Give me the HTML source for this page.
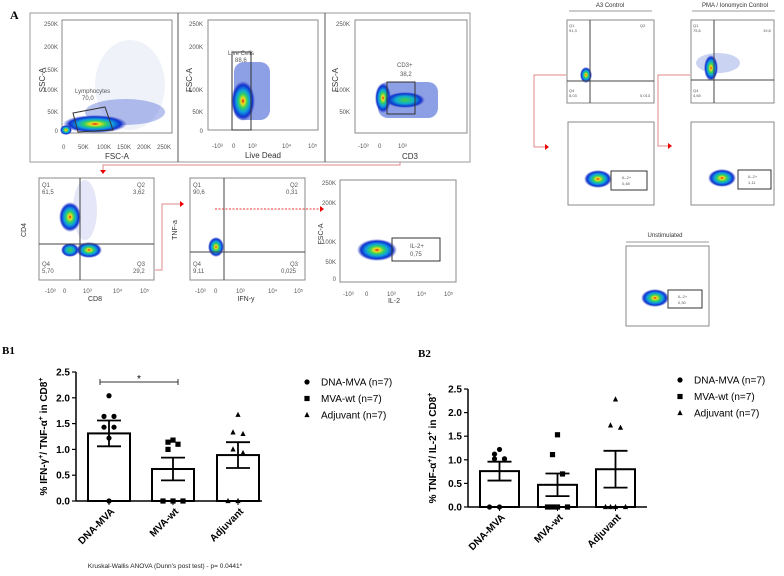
<!DOCTYPE html>
<html><head><meta charset="utf-8"><style>
html,body{margin:0;padding:0;background:#fff}
svg{display:block;font-family:"Liberation Sans",sans-serif}
</style></head><body>
<svg id="fig" width="784" height="576" viewBox="0 0 784 576">
<defs>
<radialGradient id="blob" cx="50%" cy="50%" r="50%">
<stop offset="0" stop-color="#e01010"/><stop offset="0.15" stop-color="#f0e020"/><stop offset="0.35" stop-color="#30d060"/><stop offset="0.55" stop-color="#10a0e0"/><stop offset="0.8" stop-color="#1030d0"/><stop offset="1" stop-color="#3040c0" stop-opacity="0"/>
</radialGradient>
<radialGradient id="blobg" cx="50%" cy="50%" r="50%">
<stop offset="0" stop-color="#40d040"/><stop offset="0.45" stop-color="#10b0d0"/><stop offset="0.8" stop-color="#1030d0"/><stop offset="1" stop-color="#3040c0" stop-opacity="0"/>
</radialGradient>
</defs>
<g font-size="6" fill="#555">
<text x="10" y="19" font-family="Liberation Serif" font-weight="bold" font-size="12" fill="#000">A</text>
<rect x="30" y="13" width="440" height="149" fill="none" stroke="#999"/>
<line x1="178" y1="13" x2="178" y2="162" stroke="#555"/><line x1="325" y1="13" x2="325" y2="162" stroke="#555"/>
<g>
<rect x="62" y="20" width="110" height="113" fill="none" stroke="#888"/>
<ellipse cx="130" cy="85" rx="35" ry="45" fill="#8090d0" opacity="0.12"/>
<ellipse cx="125" cy="112" rx="40" ry="13" fill="#3050d0" opacity="0.35"/>
<ellipse cx="95" cy="124" rx="32" ry="9" fill="url(#blob)"/>
<ellipse cx="66" cy="130" rx="6" ry="5" fill="url(#blob)"/>
<polygon points="73,113 105,107 113,130 78,132" fill="none" stroke="#333"/>
<text x="75" y="93">Lymphocytes</text><text x="82" y="100">70,0</text>
<text x="58" y="26" text-anchor="end">250K</text><text x="58" y="49" text-anchor="end">200K</text><text x="58" y="72" text-anchor="end">150K</text><text x="58" y="92" text-anchor="end">100K</text><text x="58" y="114" text-anchor="end">50K</text><text x="58" y="133" text-anchor="end">0</text>
<text x="62" y="149">0</text><text x="78" y="149">50K</text><text x="97" y="149">100K</text><text x="117" y="149">150K</text><text x="137" y="149">200K</text><text x="157" y="149">250K</text>
<text x="117" y="159" font-size="8" fill="#333" text-anchor="middle">FSC-A</text>
<text transform="translate(45,80) rotate(-90)" font-size="8" fill="#333" text-anchor="middle">SSC-A</text>
</g>
<g>
<rect x="208" y="20" width="110" height="110" fill="none" stroke="#888"/>
<rect x="234" y="62" width="36" height="58" rx="10" fill="#3050d0" opacity="0.55"/>
<ellipse cx="243" cy="101" rx="12" ry="20" fill="url(#blob)"/>
<rect x="232" y="52" width="19" height="78" fill="none" stroke="#333"/>
<text x="228" y="55">Live Cells</text><text x="235" y="62">88,6</text>
<text x="203" y="26" text-anchor="end">250K</text><text x="203" y="49" text-anchor="end">200K</text><text x="203" y="92" text-anchor="end">100K</text><text x="203" y="114" text-anchor="end">50K</text><text x="203" y="133" text-anchor="end">0</text>
<text x="212" y="148">-10³</text><text x="232" y="148">0</text><text x="248" y="148">10³</text><text x="282" y="148">10⁴</text><text x="308" y="148">10⁵</text>
<text x="263" y="158" font-size="8" fill="#333" text-anchor="middle">Live Dead</text>
<text transform="translate(192,80) rotate(-90)" font-size="8" fill="#333" text-anchor="middle">FSC-A</text>
</g>
<g>
<rect x="355" y="20" width="112" height="113" fill="none" stroke="#888"/>
<rect x="378" y="82" width="60" height="36" rx="10" fill="#3050d0" opacity="0.55"/>
<ellipse cx="383" cy="98" rx="8" ry="15" fill="url(#blob)"/>
<ellipse cx="405" cy="100" rx="20" ry="8" fill="url(#blobg)"/>
<rect x="387" y="82" width="28" height="32" fill="none" stroke="#333"/>
<text x="397" y="67">CD3+</text><text x="400" y="76">38,2</text>
<text x="350" y="26" text-anchor="end">250K</text><text x="350" y="92" text-anchor="end">100K</text><text x="350" y="114" text-anchor="end">50K</text>
<text x="358" y="148">-10³</text><text x="378" y="148">0</text><text x="398" y="148">10³</text>
<text x="410" y="159" font-size="8" fill="#333" text-anchor="middle">CD3</text>
<text transform="translate(338,80) rotate(-90)" font-size="8" fill="#333" text-anchor="middle">FSC-A</text>
</g>
<path d="M400,162 V165 H103 V170" fill="none" stroke="#d88"/>
<polygon points="100,170 106,170 103,174" fill="#e00"/>
<g>
<rect x="39" y="178" width="115" height="102" fill="none" stroke="#888"/>
<ellipse cx="85" cy="210" rx="12" ry="30" fill="#5060d0" opacity="0.15"/>
<ellipse cx="70" cy="217" rx="11" ry="15" fill="url(#blob)"/>
<ellipse cx="70" cy="250" rx="9" ry="7" fill="url(#blobg)"/>
<ellipse cx="89" cy="250" rx="13" ry="8" fill="url(#blob)"/>
<line x1="80" y1="178" x2="80" y2="280" stroke="#444"/><line x1="39" y1="244" x2="154" y2="244" stroke="#444"/>
<text x="42" y="187">Q1</text><text x="42" y="194">61,5</text><text x="137" y="187">Q2</text><text x="133" y="194">3,62</text>
<text x="42" y="266">Q4</text><text x="42" y="273">5,70</text><text x="137" y="266">Q3</text><text x="133" y="273">29,2</text>
<text x="45" y="293">-10³</text><text x="63" y="293">0</text><text x="83" y="293">10³</text><text x="113" y="293">10⁴</text><text x="140" y="293">10⁵</text>
<text x="95" y="301" font-size="7" fill="#333" text-anchor="middle">CD8</text>
<text transform="translate(26,230) rotate(-90)" font-size="7" fill="#333" text-anchor="middle">CD4</text>
</g>
<path d="M155,270 H162 V204 H180" fill="none" stroke="#d88"/>
<polygon points="180,201 180,207 184,204" fill="#e00"/>
<g>
<rect x="190" y="178" width="115" height="102" fill="none" stroke="#888"/>
<ellipse cx="216" cy="247" rx="8" ry="10" fill="url(#blob)"/>
<line x1="224" y1="178" x2="224" y2="280" stroke="#444"/><line x1="190" y1="252" x2="305" y2="252" stroke="#444"/>
<text x="193" y="187">Q1</text><text x="193" y="194">90,6</text><text x="290" y="187">Q2</text><text x="286" y="194">0,31</text>
<text x="193" y="266">Q4</text><text x="193" y="273">9,11</text><text x="290" y="266">Q3</text><text x="281" y="273">0,025</text>
<text x="195" y="293">-10³</text><text x="214" y="293">0</text><text x="236" y="293">10³</text><text x="268" y="293">10⁴</text><text x="294" y="293">10⁵</text>
<text x="246" y="301" font-size="7" fill="#333" text-anchor="middle">IFN-y</text>
<text transform="translate(177,230) rotate(-90)" font-size="7" fill="#333" text-anchor="middle">TNF-a</text>
</g>
<line x1="215" y1="209" x2="320" y2="209" stroke="#e33" stroke-dasharray="2,1.5"/>
<polygon points="320,206 320,212 324,209" fill="#e00"/>
<g>
<rect x="340" y="180" width="116" height="102" fill="none" stroke="#888"/>
<ellipse cx="377" cy="250" rx="20" ry="11" fill="url(#blob)"/>
<rect x="392" y="238" width="48" height="23" fill="none" stroke="#333"/>
<text x="410" y="248">IL-2+</text><text x="410" y="256">0,75</text>
<text x="336" y="185" text-anchor="end">250K</text><text x="336" y="205" text-anchor="end">200K</text><text x="336" y="244" text-anchor="end">100K</text><text x="336" y="264" text-anchor="end">50K</text><text x="336" y="281" text-anchor="end">0</text>
<text x="343" y="296">-10³</text><text x="365" y="296">0</text><text x="387" y="296">10³</text><text x="417" y="296">10⁴</text><text x="444" y="296">10⁵</text>
<text x="394" y="303" font-size="7" fill="#333" text-anchor="middle">IL-2</text>
<text transform="translate(323,234) rotate(-90)" font-size="7" fill="#333" text-anchor="middle">FSC-A</text>
</g>
<g font-size="4">
<text x="610" y="7" text-anchor="middle" font-size="6" fill="#333">A3 Control</text>
<line x1="569" y1="11" x2="652" y2="11" stroke="#999"/>
<rect x="567" y="20" width="87" height="83" fill="none" stroke="#888"/>
<ellipse cx="586" cy="75" rx="6" ry="8" fill="url(#blob)"/>
<line x1="590" y1="20" x2="590" y2="103" stroke="#444"/><line x1="567" y1="81" x2="654" y2="81" stroke="#444"/>
<text x="569" y="27">Q1</text><text x="569" y="32">91,3</text><text x="640" y="27">Q2</text>
<text x="569" y="92">Q4</text><text x="569" y="97">8,03</text><text x="640" y="97">0,013</text>
<rect x="568" y="122" width="86" height="83" fill="none" stroke="#888"/>
<ellipse cx="598" cy="179" rx="14" ry="9" fill="url(#blob)"/>
<rect x="611" y="171" width="36" height="19" fill="none" stroke="#333"/>
<text x="622" y="179">IL-2+</text><text x="622" y="185">0,48</text>
</g>
<g font-size="4">
<text x="735" y="7" text-anchor="middle" font-size="6" fill="#333">PMA / Ionomycin Control</text>
<line x1="692" y1="11" x2="775" y2="11" stroke="#999"/>
<rect x="691" y="20" width="83" height="83" fill="none" stroke="#888"/>
<ellipse cx="718" cy="63" rx="22" ry="10" fill="#3050d0" opacity="0.25"/>
<ellipse cx="711" cy="68" rx="7" ry="13" fill="url(#blob)"/>
<line x1="714" y1="20" x2="714" y2="103" stroke="#444"/><line x1="691" y1="80" x2="774" y2="80" stroke="#444"/>
<text x="693" y="27">Q1</text><text x="693" y="32">75,6</text><text x="763" y="32">19,8</text>
<text x="693" y="92">Q4</text><text x="693" y="97">4,65</text>
<rect x="691" y="122" width="83" height="83" fill="none" stroke="#888"/>
<ellipse cx="722" cy="178" rx="14" ry="9" fill="url(#blob)"/>
<rect x="738" y="170" width="33" height="19" fill="none" stroke="#333"/>
<text x="748" y="178">IL-2+</text><text x="748" y="184">1,11</text>
</g>
<path d="M566,75 H534 V147 H545" fill="none" stroke="#d88"/><polygon points="545,144 545,150 549,147" fill="#e00"/>
<path d="M690,75 H658 V146 H668" fill="none" stroke="#d88"/><polygon points="668,143 668,149 672,146" fill="#e00"/>
<g font-size="4">
<text x="665" y="237" text-anchor="middle" font-size="6" fill="#333">Unstimulated</text>
<line x1="626" y1="242" x2="709" y2="242" stroke="#999"/>
<rect x="626" y="246" width="83" height="80" fill="none" stroke="#888"/>
<ellipse cx="655" cy="298" rx="14" ry="9" fill="url(#blob)"/>
<rect x="668" y="290" width="34" height="18" fill="none" stroke="#333"/>
<text x="678" y="298">IL-2+</text><text x="678" y="304">0,30</text>
</g>
</g>
<text x="2" y="354" font-family="Liberation Serif" font-weight="bold" font-size="11">B1</text>
<text x="418" y="357" font-family="Liberation Serif" font-weight="bold" font-size="11">B2</text>
<g id="b1"></g>
<g id="b2"></g>
<text x="165" y="568" font-size="6.5" text-anchor="middle" fill="#222">Kruskal-Wallis ANOVA (Dunn's post test) - p= 0.0441*</text>
</svg>
<script>
const categories = ["DNA-MVA", "MVA-wt", "Adjuvant"];
const legendLabels = ["DNA-MVA (n=7)", "MVA-wt (n=7)", "Adjuvant (n=7)"];
const yTicks = [0.0, 0.5, 1.0, 1.5, 2.0, 2.5];
const yTickLabels = ["0.0", "0.5", "1.0", "1.5", "2.0", "2.5"];
const b1Means = [1.31, 0.62, 0.89];
const b1Sem = [0.25, 0.22, 0.25];
const b1Points = [[2.04, 1.64, 1.64, 1.43, 1.43, 1.22, 0], [1.18, 1.14, 1.10, 1.00, 0, 0, 0], [1.67, 1.33, 1.30, 1.00, 0.93, 0, 0]];
const b2Means = [0.76, 0.47, 0.80];
const b2Sem = [0.20, 0.24, 0.39];
const b2Points = [[1.22, 1.12, 1.02, 1.02, 1.02, 0, 0], [1.53, 1.11, 0.70, 0, 0, 0, 0], [2.28, 1.73, 1.68, 0, 0, 0, 0]];

const NS = "http://www.w3.org/2000/svg";
function mk(parent, tag, attrs) {
  const e = document.createElementNS(NS, tag);
  for (const k in attrs) e.setAttribute(k, attrs[k]);
  parent.appendChild(e);
  return e;
}
function marker(g, shape, x, y, r) {
  let m;
  if (shape === 0) m = mk(g, "circle", {cx: x, cy: y, r: r, fill: "#000"});
  else if (shape === 1) m = mk(g, "rect", {x: x - r, y: y - r, width: 2 * r, height: 2 * r, fill: "#000"});
  else m = mk(g, "polygon", {points: `${x},${y - r - 0.5} ${x - r},${y + r - 0.5} ${x + r},${y + r - 0.5}`, fill: "#000"});
  return m;
}
const JIT_NZ = [0, -5, 5, -5, 5, 0, -9];
const JIT_Z = [0, -10, 10, -5, 5];
function drawChart(id, cfg, means, sems, points) {
  const g = document.getElementById(id);
  const y = v => cfg.y0 - (v / 2.5) * (cfg.y0 - cfg.y25);
  const xc = i => cfg.barX[i] + cfg.barW / 2;
  const ya = mk(g, "line", {x1: cfg.ax, y1: cfg.y25, x2: cfg.ax, y2: cfg.y0, stroke: "#000", "stroke-width": 1.5});
  
  
  const xa = mk(g, "line", {x1: cfg.ax, y1: cfg.y0, x2: cfg.axEnd, y2: cfg.y0, stroke: "#000", "stroke-width": 1.5});
  
  
  yTicks.forEach((t, i) => {
    mk(g, "line", {x1: cfg.ax - 4, y1: y(t), x2: cfg.ax, y2: y(t), stroke: "#000", "stroke-width": 1.2});
    const tl = mk(g, "text", {x: cfg.ax - 6, y: y(t) + 3.5, "text-anchor": "end", "font-size": 10, "font-weight": "bold"});
    tl.textContent = yTickLabels[i];
    
    
  });
  const yt = mk(g, "text", {transform: `translate(${cfg.titleX},${(cfg.y0 + cfg.y25) / 2}) rotate(-90)`, "text-anchor": "middle", "font-size": 10, "font-weight": "bold"});
  yt.innerHTML = cfg.title;
  
  
  categories.forEach((c, i) => {
    const b = mk(g, "rect", {x: cfg.barX[i], y: y(means[i]), width: cfg.barW, height: cfg.y0 - y(means[i]), fill: "#fff", stroke: "#000", "stroke-width": 2});
    
    
    mk(g, "line", {x1: xc(i), y1: cfg.y0, x2: xc(i), y2: cfg.y0 + 4, stroke: "#000"});
    const eb = mk(g, "path", {d: `M${xc(i)},${y(means[i] - sems[i])} V${y(means[i] + sems[i])} M${xc(i) - 12},${y(means[i] + sems[i])} h24 M${xc(i) - 12},${y(means[i] - sems[i])} h24`, stroke: "#000", "stroke-width": 1.8, fill: "none"});
    
    
    let nz = 0, z = 0;
    points[i].forEach((v) => {
      const dx = v === 0 ? JIT_Z[(z++) % JIT_Z.length] : JIT_NZ[(nz++) % JIT_NZ.length];
      const m = marker(g, i, xc(i) + dx, y(v), 2.6);
      
      
    });
    const lab = mk(g, "text", {transform: `translate(${xc(i) + 6},${cfg.y0 + 11}) rotate(-45)`, "text-anchor": "end", "font-size": 10, "font-weight": "bold"});
    lab.textContent = c;
    
    
  });
  legendLabels.forEach((l, i) => {
    const m = marker(g, i, cfg.legX, cfg.legY + i * 16.5, 2.6);
    
    
    const t = mk(g, "text", {x: cfg.legX + 14, y: cfg.legY + i * 16.5 + 3.5, "font-size": 10});
    t.textContent = l;
    
    
  });
  return y;
}
drawChart("b1", {ax: 76, axEnd: 262, y0: 501, y25: 372, barX: [88, 152, 217], barW: 42, titleX: 47, legX: 307, legY: 382,
  title: '% IFN-γ<tspan dy="-4" font-size="7">+</tspan><tspan dy="4">/ TNF-α</tspan><tspan dy="-4" font-size="7">+</tspan><tspan dy="4"> in CD8</tspan><tspan dy="-4" font-size="7">+</tspan>'}, b1Means, b1Sem, b1Points);
const b1 = document.getElementById("b1");
const sig = mk(b1, "path", {d: "M100,379 V385 M100,382 H178 M178,379 V385", stroke: "#333", fill: "none"});


const st = mk(b1, "text", {x: 139, y: 382, "text-anchor": "middle", "font-size": 10});
st.textContent = "*";


drawChart("b2", {ax: 468, axEnd: 647, y0: 507, y25: 389, barX: [480, 538, 596], barW: 39, titleX: 436, legX: 680, legY: 380,
  title: '% TNF-α<tspan dy="-4" font-size="7">+</tspan><tspan dy="4">/ IL-2</tspan><tspan dy="-4" font-size="7">+</tspan><tspan dy="4"> in CD8</tspan><tspan dy="-4" font-size="7">+</tspan>'}, b2Means, b2Sem, b2Points);
</script>
</body></html>
